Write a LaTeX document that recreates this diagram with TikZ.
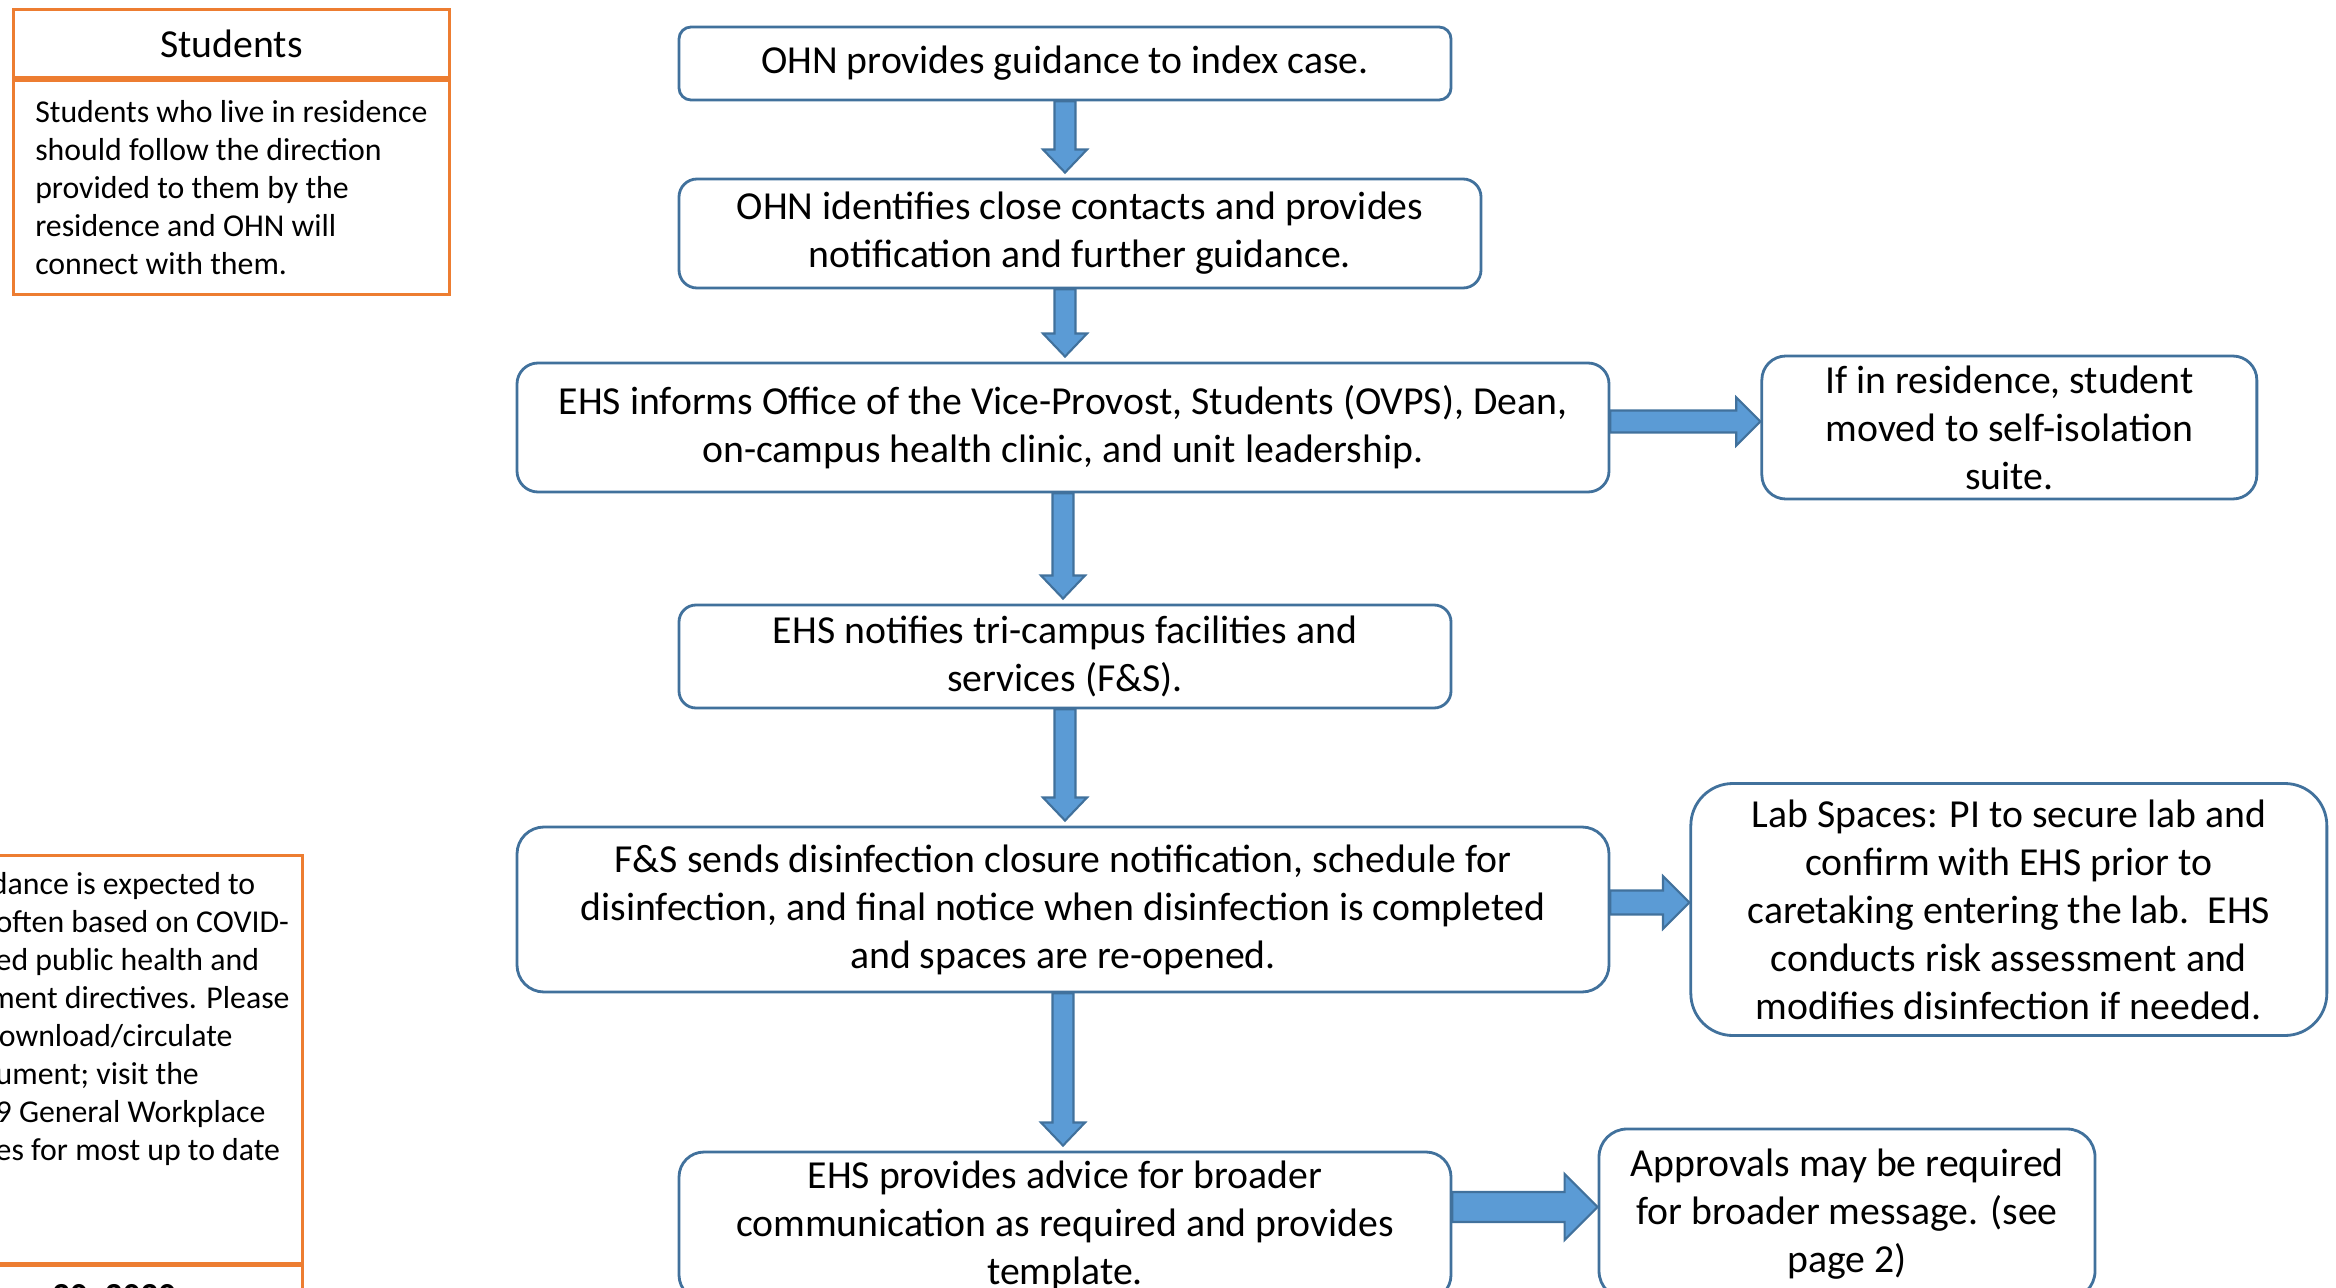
\documentclass[tikz,border=0pt]{standalone}
\usepackage{fontspec}
\setmainfont{Carlito}
\usetikzlibrary{calc, positioning}
\definecolor{boxblue}{RGB}{65,113,156}
\definecolor{arrowfill}{RGB}{91,155,213}
\definecolor{arrowedge}{RGB}{65,113,156}
\definecolor{noteorange}{RGB}{237,125,49}

\begin{document}
\begin{tikzpicture}[
    mainfont/.style={font=\fontsize{11.3}{13.66}\selectfont},
    notefont/.style={font=\fontsize{9.05}{10.8}\selectfont},
    flowbox/.style={rectangle, rounded corners=0.2cm, draw=boxblue, line width=0.8pt,
                    fill=white, align=center, inner sep=0pt, mainfont},
    notebox/.style={rectangle, draw=noteorange, line width=0.8pt, inner sep=0pt},
    blk/.style={draw=arrowedge, fill=arrowfill, line width=0.6pt},
    darr/.style={blk, to path={let \p1=(\tikztostart), \p2=(\tikztotarget) in
        (\x1-#1,\y1) -- (\x1+#1,\y1) -- (\x1+#1,\y2+0.05cm+2.2*#1)
        -- (\x1+2.1*#1,\y2+0.05cm+2.2*#1) -- (\x1,\y2+0.05cm)
        -- (\x1-2.1*#1,\y2+0.05cm+2.2*#1) -- (\x1-#1,\y2+0.05cm+2.2*#1) -- cycle}},
    darr/.default=0.105cm,
    rarr/.style={blk, to path={let \p1=(\tikztostart), \p2=(\tikztotarget) in
        (\x1,\y1+#1) -- (\x2-2.2*#1,\y1+#1) -- (\x2-2.2*#1,\y1+2.2*#1) -- (\x2,\y1)
        -- (\x2-2.2*#1,\y1-2.2*#1) -- (\x2-2.2*#1,\y1-#1) -- (\x1,\y1-#1) -- cycle}},
    rarr/.default=0.11cm
]
\useasboundingbox (0,0) rectangle (23.36,-12.88);
\clip (0,0) rectangle (23.36,-12.88);

% Left column: notes
\node[notebox, minimum width=4.36cm, minimum height=0.68cm, anchor=north west, mainfont]
  (sthead) at (0.12,-0.08) {Students};
\node[notebox, minimum width=4.36cm, minimum height=2.14cm, anchor=north west,
      align=left, notefont]
  (stbody) at (0.12,-0.79) {Students who live in residence\\should follow the direction\\provided to them by the\\residence and OHN will\\connect with them.};
\node[notebox, minimum width=4.6cm, minimum height=4.08cm, anchor=north east]
  (guidenote) at (3.04,-8.54) {};
\node[notefont, align=left, anchor=north west, inner sep=0pt] (guidetext) at (-0.05,-8.72)
  {\hspace*{-0.15em}dance is expected to\\often based on COVID-\\ed public health and\\\hspace*{-0.2em}ment directives. Please\\\hspace*{0.1em}ownload/circulate\\ument; visit the\\9 General Workplace\\es for most up to date};
\node[notebox, minimum width=4.6cm, minimum height=0.6cm, anchor=north east]
  (datebox) at (3.04,-12.64) {};
\node[mainfont, font=\bfseries, anchor=base west, inner sep=0pt] (datetext) at (0.27,-13.07) {y 20, 2020};

% Main column
\node[flowbox, minimum width=7.72cm, minimum height=0.73cm, rounded corners=0.12cm]
  (guide) at (10.65,-0.635) {OHN provides guidance to index case.};
\node[flowbox, minimum width=8.02cm, minimum height=1.09cm, rounded corners=0.18cm]
  (contacts) at (10.80,-2.335) {OHN identifies close contacts and provides\\notification and further guidance.};
\node[flowbox, minimum width=10.92cm, minimum height=1.29cm, rounded corners=0.21cm]
  (inform) at (10.63,-4.275) {EHS informs Office of the Vice-Provost, Students (OVPS), Dean,\\on-campus health clinic, and unit leadership.};
\node[flowbox, minimum width=7.72cm, minimum height=1.03cm, rounded corners=0.17cm]
  (notify) at (10.65,-6.565) {EHS notifies tri-campus facilities and\\services (F\&S).};
\node[flowbox, minimum width=10.92cm, minimum height=1.65cm, rounded corners=0.27cm]
  (sends) at (10.63,-9.095) {F\&S sends disinfection closure notification, schedule for\\disinfection, and final notice when disinfection is completed\\and spaces are re-opened.};
\node[flowbox, minimum width=7.72cm, minimum height=1.48cm, rounded corners=0.25cm]
  (advice) at (10.65,-12.26) {EHS provides advice for broader\\communication as required and provides\\template.};

% Right column
\node[flowbox, minimum width=4.95cm, minimum height=1.43cm, rounded corners=0.24cm,
      right=1.5cm of inform] (resid) {If in residence, student\\moved to self-isolation\\suite.};
\node[flowbox, minimum width=6.36cm, minimum height=2.52cm, rounded corners=0.42cm,
      right=0.79cm of sends] (lab) {Lab Spaces: PI to secure lab and\\confirm with EHS prior to\\caretaking entering the lab.\ \ EHS\\conducts risk assessment and\\modifies disinfection if needed.};
\node[flowbox, minimum width=4.96cm, minimum height=1.70cm, rounded corners=0.28cm]
  (approvals) at (18.47,-12.14) {Approvals may be required\\for broader message. (see\\page 2)};

% Block arrows
\draw[darr] (guide.south) to (contacts.north);
\draw[darr] ([xshift=-0.15cm]contacts.south) to (inform.north);
\draw[darr] (inform.south) to (notify.north);
\draw[darr] (notify.south) to (sends.north);
\draw[darr] (sends.south) to (advice.north);
\draw[rarr] ([yshift=0.06cm]inform.east) to (resid.west);
\draw[rarr=0.12cm] ([yshift=0.07cm]sends.east) to (lab.west);
\draw[rarr=0.15cm] ([yshift=0.19cm]advice.east) to (approvals.west);
\end{tikzpicture}
\end{document}
